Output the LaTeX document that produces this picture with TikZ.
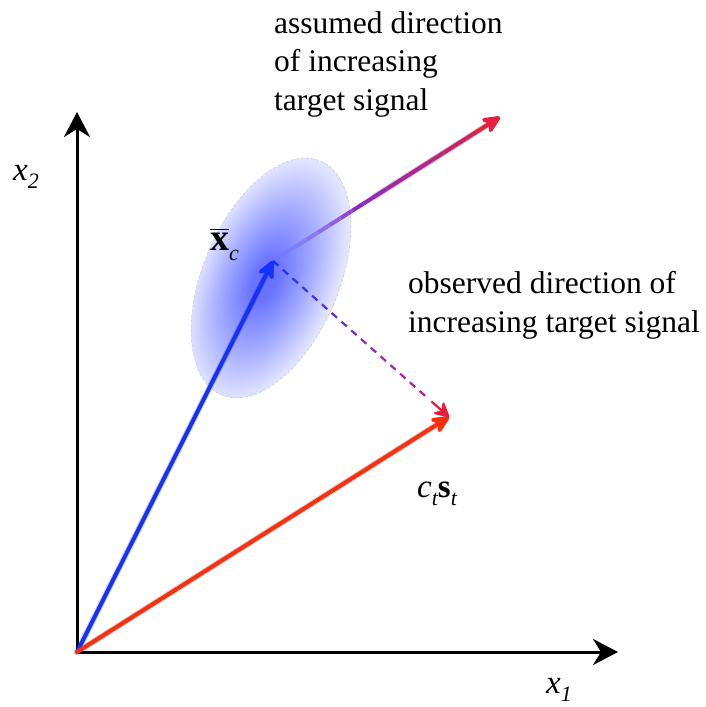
\documentclass[tikz,border=0pt]{standalone}
\usepackage{amsmath}
\usepackage{fontspec}
\setmainfont{LiberationSerif}[Extension=.ttf, UprightFont=*-Regular,
  BoldFont=*-Bold, ItalicFont=*-Italic, BoldItalicFont=*-BoldItalic]
\usetikzlibrary{arrows.meta,calc}

\definecolor{vecblue}{RGB}{20,50,255}
\definecolor{vecred}{RGB}{255,45,10}
\definecolor{dirviolet}{RGB}{140,40,200}
\definecolor{dircrimson}{RGB}{232,30,60}
\definecolor{dashend}{RGB}{205,30,120}
\definecolor{blobin}{RGB}{105,115,255}
\definecolor{blobmid}{RGB}{165,172,255}
\definecolor{blobout}{RGB}{226,229,255}

\pgfdeclareradialshading{blob}{\pgfpoint{-2bp}{-1bp}}{color(0bp)=(blobin);
  color(4bp)=(blobin); color(15bp)=(blobmid); color(25bp)=(blobout);
  color(50bp)=(blobout)}

\newcommand{\subtxt}[1]{\raisebox{-0.27em}{\fontsize{22}{22}\selectfont\itshape #1}}

\begin{document}
\begin{tikzpicture}[
  x=1pt, y=-1pt,
  axis/.style={line width=3pt, -{Stealth[length=25pt, width=26pt, inset=8pt]}},
  vec/.style={line width=4pt, line cap=round,
    -{Stealth[length=24pt, width=22pt, inset=9pt, round]}},
  lbl/.style={font=\fontsize{31.5}{38.5}\selectfont, align=left,
    anchor=base west, inner sep=0pt},
  mth/.style={font=\fontsize{33}{33}\selectfont, anchor=base west, inner sep=0pt}
]
\useasboundingbox (0,0) rectangle (706,707);

\coordinate (O) at (77,652);
\coordinate (x1end) at (618,652);
\coordinate (x2end) at (77,112);
\coordinate (mean) at (273,261);
\coordinate (obs) at (449,417);
\coordinate (assumed) at (500,117);
\coordinate (blobc) at (271,278);

% axes
\draw[axis] (O) -- (x1end);
\draw[axis] (O) -- (x2end);

% spread of the class round its mean
\shade[shading=blob, transform canvas={rotate around={-23:(blobc)}}]
  (blobc) ellipse [x radius=68, y radius=127];
\draw[gray!45, densely dashed, line width=0.5pt,
  transform canvas={rotate around={-23:(blobc)}}]
  (blobc) ellipse [x radius=68, y radius=127];

% soft shadows
\begin{scope}[transparency group, opacity=0.2, shift={(3,4)}]
\draw[vec, black, line width=6pt] (O) -- (mean);
\draw[vec, black, line width=6pt] (O) -- (obs);
\draw[vec, black, line width=6pt] ($(mean)!0.45!(assumed)$) -- (assumed);
\end{scope}

\draw[vec, vecblue] (O) -- (mean);
\draw[vec, vecred] (O) -- (obs);

% assumed direction, fading in from the mean
\foreach \i in {0,...,17}{
  \pgfmathsetmacro{\ta}{\i/20}
  \pgfmathsetmacro{\tb}{(\i+1)/20}
  \pgfmathsetmacro{\pv}{min(100,\ta/0.35*100)}
  \pgfmathsetmacro{\pc}{max(0,(\ta-0.35)/0.65*100)}
  \pgfmathsetmacro{\op}{min(1,0.25+0.75*\ta/0.35)}
  \colorlet{segcol}{dirviolet!\pv!blobin}
  \colorlet{segcol}{dircrimson!\pc!segcol}
  \draw[line width=4pt, segcol, opacity=\op]
    ($(mean)!\ta!(assumed)$) -- ($(mean)!\tb!(assumed)$);
}
\draw[vec, dircrimson] ($(mean)!0.9!(assumed)$) -- (assumed);

% observed direction, dashed
\foreach \i in {0,...,15}{
  \pgfmathsetmacro{\ta}{\i/18}
  \pgfmathsetmacro{\tb}{(\i+0.55)/18}
  \pgfmathsetmacro{\pv}{min(100,\ta/0.5*100)}
  \pgfmathsetmacro{\pc}{max(0,(\ta-0.5)/0.5*100)}
  \colorlet{segcol}{dirviolet!\pv!vecblue}
  \colorlet{segcol}{dashend!\pc!segcol}
  \draw[line width=2.2pt, segcol]
    ($(mean)!\ta!(obs)$) -- ($(mean)!\tb!(obs)$);
}
\draw[line width=2.2pt, dircrimson,
  -{Stealth[length=18pt, width=19pt, inset=7pt, round]}]
  ($(mean)!0.9!(obs)$) -- (obs);

% labels
\node[mth] (x2lbl) at (13,180) {\textit{x}\subtxt{2}};
\node[mth] (x1lbl) at (546,693) {\textit{x}\subtxt{1}};
\node[mth, font=\fontsize{38}{38}\selectfont] (meanlbl) at (210,250)
  {$\overline{\text{\bfseries x}}$\subtxt{c}};
\node[mth] (obslbl) at (417,497) {\textit{c}\subtxt{t}\textbf{s}\subtxt{t}};

\node[lbl] (assumedtxt) at (274,110) {assumed direction\\of increasing\\target signal};
\node[lbl] (observedtxt) at (408,332) {observed direction of\\increasing target signal};
\end{tikzpicture}
\end{document}
